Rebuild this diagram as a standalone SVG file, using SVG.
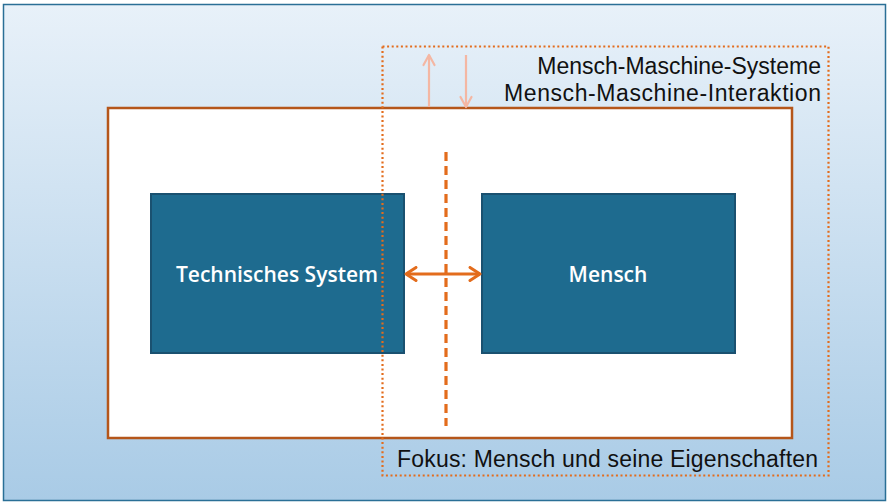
<svg xmlns="http://www.w3.org/2000/svg" width="890" height="504" viewBox="0 0 890 504">
<defs>
<linearGradient id="bg" x1="0" y1="0" x2="0" y2="1">
<stop offset="0" stop-color="#e8f1f9"/>
<stop offset="1" stop-color="#a9cbe6"/>
</linearGradient>
<marker id="ah" viewBox="0 0 14 16" refX="12" refY="8" markerWidth="14" markerHeight="16" markerUnits="userSpaceOnUse" orient="auto-start-reverse">
<path d="M2,1.5 L12,8 L2,14.5" fill="none" stroke="#e36c1c" stroke-width="3" stroke-linecap="round" stroke-linejoin="round"/>
</marker>
<marker id="ahp" viewBox="0 0 14 14" refX="12" refY="7" markerWidth="14" markerHeight="14" markerUnits="userSpaceOnUse" orient="auto">
<path d="M2,1.5 L12,7 L2,12.5" fill="none" stroke="#f4b7a3" stroke-width="2.2" stroke-linecap="round" stroke-linejoin="round"/>
</marker>
</defs>
<style>
.box{fill:#1e6b8f;stroke:#1a5170;stroke-width:2}
.lbl{font-family:"Open Sans","Noto Sans",sans-serif;font-weight:600;font-size:21px;fill:#ffffff;text-anchor:middle}
.txt{font-family:"Liberation Sans",Arial,sans-serif;font-size:23px;fill:#111111}
</style>
<rect x="3.5" y="4.5" width="882" height="496" fill="url(#bg)" stroke="#2a6f96" stroke-width="1.5"/>
<rect id="system" x="108" y="108" width="684" height="330" fill="#ffffff" stroke="#b5561a" stroke-width="2.5"/>
<g id="technisches-system">
<rect class="box" x="151" y="194" width="253" height="159"/>
<text class="lbl" x="277" y="282">Technisches System</text>
</g>
<g id="mensch">
<rect class="box" x="482" y="194" width="253" height="159"/>
<text class="lbl" x="608" y="282">Mensch</text>
</g>
<g id="connectors">
<line x1="446" y1="152" x2="446" y2="426" stroke="#e36c1c" stroke-width="3.2" stroke-dasharray="9,5"/>
<line x1="406" y1="274" x2="480" y2="274" stroke="#e36c1c" stroke-width="3" marker-start="url(#ah)" marker-end="url(#ah)"/>
<line x1="429" y1="107" x2="429" y2="55" stroke="#f4b7a3" stroke-width="2.2" marker-end="url(#ahp)"/>
<line x1="466" y1="55" x2="466" y2="107" stroke="#f4b7a3" stroke-width="2.2" marker-end="url(#ahp)"/>
</g>
<g id="fokus">
<rect x="382.5" y="46.5" width="446" height="429" fill="none" stroke="#e36c1c" stroke-width="2.2" stroke-dasharray="2,2.6"/>
<text class="txt" x="821" y="74" text-anchor="end">Mensch-Maschine-Systeme</text>
<text class="txt" x="504" y="101" textLength="317" lengthAdjust="spacing">Mensch-Maschine-Interaktion</text>
<text class="txt" x="397" y="467" textLength="421" lengthAdjust="spacing">Fokus: Mensch und seine Eigenschaften</text>
</g>
</svg>
